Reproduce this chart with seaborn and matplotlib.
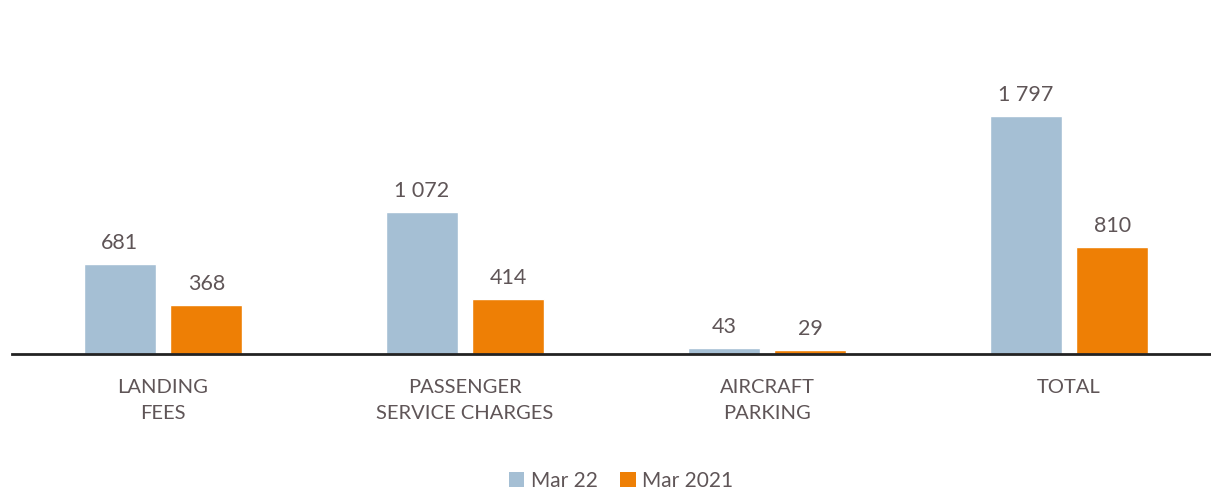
import matplotlib
matplotlib.use("Agg")
import matplotlib.pyplot as plt
import seaborn as sns
import pandas as pd
from matplotlib.patches import Patch

categories = ["LANDING\nFEES", "PASSENGER\nSERVICE CHARGES", "AIRCRAFT\nPARKING", "TOTAL"]
series_names = ["Mar 22", "Mar 2021"]
mar22 = [681, 1072, 43, 1797]
mar21 = [368, 414, 29, 810]
labels22 = ["681", "1 072", "43", "1 797"]
labels21 = ["368", "414", "29", "810"]
colors = ["#A5BFD4", "#EE7F05"]
text_color = "#5F5557"

df = pd.DataFrame({
    "category": categories * 2,
    "series": [series_names[0]] * 4 + [series_names[1]] * 4,
    "value": mar22 + mar21,
})

sns.set_theme(style="white")
plt.rcParams["font.family"] = ["Lato", "DejaVu Sans"]

fig = plt.figure(figsize=(12.11, 4.92), dpi=100)
ax = fig.add_axes([12 / 1211, 1 - 354 / 492, 1 - 12 / 1211, 331 / 492])

sns.barplot(data=df, x="category", y="value", hue="series", palette=colors,
            width=0.573, gap=0.17, ax=ax, legend=False, saturation=1)

for cont, labs in zip(ax.containers, [labels22, labels21]):
    ax.bar_label(cont, labels=labs, padding=8, fontsize=15.5, color=text_color)

ax.set_xlim(-0.5, 3.47)
ax.set_ylim(0, 2500)
ax.set_xlabel("")
ax.set_ylabel("")
ax.set_yticks([])
for s in ["top", "right", "left"]:
    ax.spines[s].set_visible(False)
ax.spines["bottom"].set_color("#222222")
ax.spines["bottom"].set_linewidth(2)
ax.tick_params(axis="x", length=0, pad=18, labelsize=14.5, labelcolor=text_color)
for t in ax.get_xticklabels():
    t.set_linespacing(1.65)

handles = [Patch(facecolor=c, edgecolor="none") for c in colors]
fig.legend(handles, series_names, loc="center", bbox_to_anchor=(621 / 1211, 1 - 481 / 492),
           ncol=2, frameon=False, fontsize=15, labelcolor=text_color,
           handlelength=0.75, handleheight=0.75, handletextpad=0.3, columnspacing=1.1)

fig.savefig("out.png", dpi=100)
